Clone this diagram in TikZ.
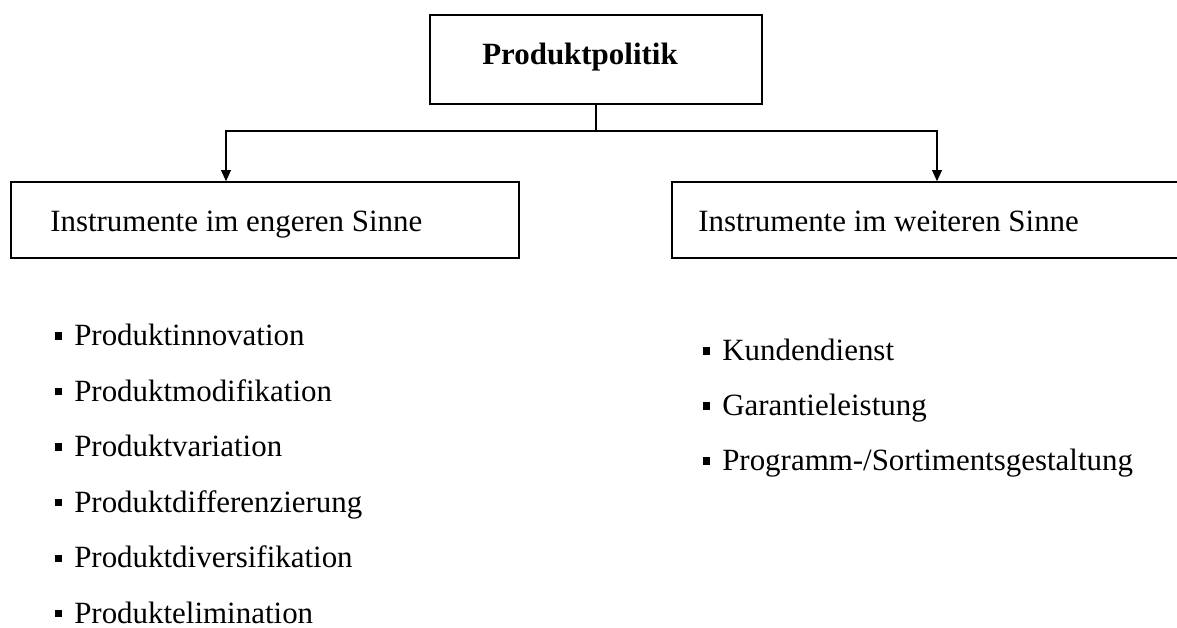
\documentclass[tikz,border=0pt]{standalone}
\usepackage{fontspec}
\setmainfont{Liberation Serif}
\usetikzlibrary{arrows.meta}

\newcommand{\sqbullet}{\raisebox{4.6pt}{\rule{5pt}{5pt}}\hspace{8.5pt}}

\begin{document}
\begin{tikzpicture}[x=0.025cm, y=-0.025cm,
		box/.style={draw, line width=1pt, inner sep=0pt},
		item/.style={anchor=base west, inner sep=0pt},
		link/.style={line width=1pt},
		>={Triangle[length=8pt, width=7pt]}]
		\fontsize{22pt}{26pt}\selectfont
		\useasboundingbox (0,0) rectangle (1177,628);
	
		% Draw the top box
		\node[box, minimum width=8.3cm, minimum height=2.225cm] (politik) at (596,59.5) {};
		\node[item] (politiktext) at (482,65) {\textbf{Produktpolitik}};
	
		% Draw the two boxes below
		\node[box, minimum width=12.7cm, minimum height=1.9cm] (engeren) at (265,220) {};
		\node[item] (engerentext) at (50,232) {Instrumente im engeren Sinne};
		\node[box, minimum width=12.65cm, minimum height=1.9cm] (weiteren) at (925,220) {};
		\node[item] (weiterentext) at (698,232) {Instrumente im weiteren Sinne};
	
		% Draw the branching arrows
		\coordinate (split) at (596,131);
		\coordinate (leftdrop) at (226,131);
		\coordinate (rightdrop) at (937,131);
		\draw[link] (politik.south) -- (split);
		\draw[link, ->] (split) -- (leftdrop) -- (leftdrop |- engeren.north);
		\draw[link, ->] (split) -- (rightdrop) -- (rightdrop |- weiteren.north);
	
		% List the instruments in the narrower sense
		\foreach \name [count=\i from 0] in {Produktinnovation, Produktmodifikation, Produktvariation, Produktdifferenzierung, Produktdiversifikation, Produktelimination}
			\node[item] (enger\i) at (55, 346+55.5*\i) {\sqbullet\name};
	
		% List the instruments in the wider sense
		\foreach \name [count=\i from 0] in {Kundendienst, Garantieleistung, Programm-/Sortimentsgestaltung}
			\node[item] (weiter\i) at (703, 361+55*\i) {\sqbullet\name};
	
	\end{tikzpicture}
\end{document}
